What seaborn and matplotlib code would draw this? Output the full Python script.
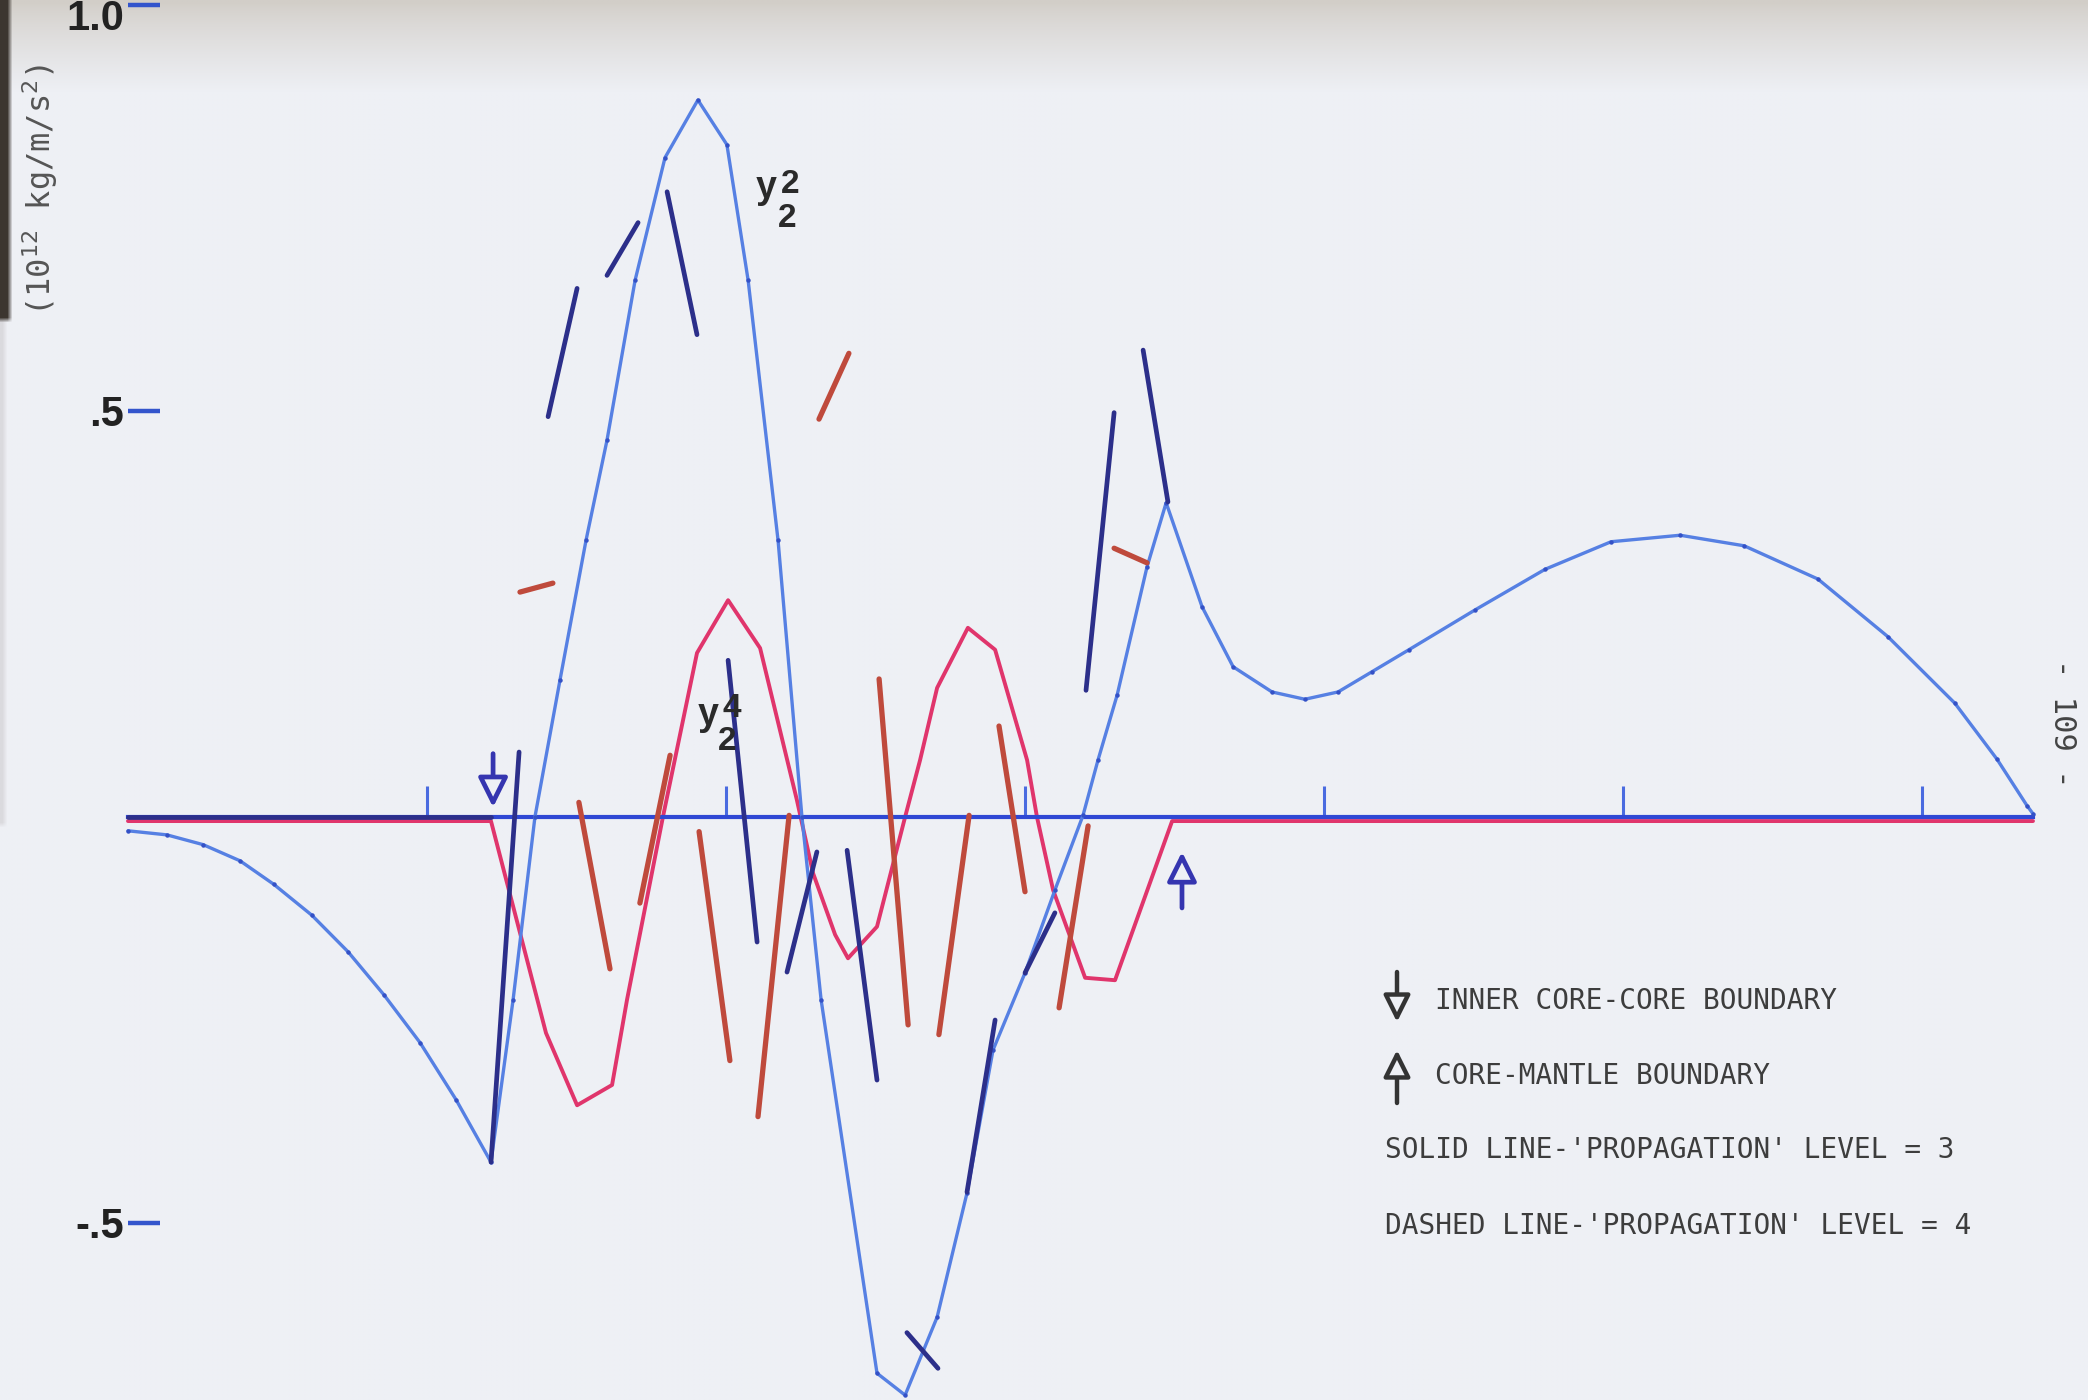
import numpy as np
import pandas as pd
import matplotlib
matplotlib.use("Agg")
import matplotlib.pyplot as plt
import seaborn as sns

# ---------------------------------------------------------------
# data (x = radius in km, y = 10^12 kg/m/s^2)
# ---------------------------------------------------------------
R_EARTH = 6371
ICB_R = 1221      # inner core - core boundary arrow
CMB_R = 3525      # core - mantle boundary arrow (as drawn)

# y2^2, light blue curve
y22_r = [0, 130, 251, 375, 488, 615, 736, 856, 977, 1097, 1214, 1288, 1361,
         1445, 1532, 1602, 1696, 1796, 1906, 2003, 2074, 2174, 2254, 2318,
         2505, 2599, 2706, 2806, 2893, 3000, 3100, 3194, 3244, 3308, 3408,
         3472, 3592, 3696, 3826, 3936, 4047, 4161, 4284, 4505, 4739, 4960,
         5191, 5405, 5652, 5886, 6110, 6251, 6351, 6371]
y22_v = [-0.017, -0.022, -0.034, -0.054, -0.083, -0.121, -0.166, -0.219,
         -0.278, -0.348, -0.425, -0.225, 0.000, 0.169, 0.341, 0.464, 0.661,
         0.812, 0.883, 0.828, 0.661, 0.341, 0.000, -0.225, -0.685, -0.712,
         -0.616, -0.463, -0.287, -0.192, -0.090, 0.002, 0.070, 0.150, 0.308,
         0.387, 0.259, 0.185, 0.154, 0.145, 0.154, 0.179, 0.206, 0.255,
         0.305, 0.339, 0.347, 0.334, 0.293, 0.222, 0.140, 0.071, 0.014, 0.004]

# y2^4, pink curve
y24_r = [0, 1214, 1398, 1502, 1619, 1669, 1789, 1903, 2007, 2114, 2237, 2291,
         2365, 2408, 2505, 2599, 2649, 2706, 2809, 2900, 3007, 3040, 3094,
         3201, 3301, 3492, 6371]
y24_v = [-0.005, -0.005, -0.266, -0.355, -0.330, -0.225, 0.000, 0.202, 0.267,
         0.208, 0.021, -0.069, -0.145, -0.174, -0.135, 0.000, 0.070, 0.159,
         0.233, 0.206, 0.070, 0.000, -0.090, -0.198, -0.201, -0.005, -0.005]

# short 'propagation' segments (r0, v0, r1, v1)
lvl3_segs = [(0, 0.0, 1214, 0.0),
             (1214, -0.425, 1308, 0.080), (1405, 0.493, 1502, 0.651),
             (1602, 0.667, 1706, 0.732), (1803, 0.770, 1903, 0.594),
             (2007, 0.193, 2104, -0.154), (2304, -0.043, 2204, -0.191),
             (2405, -0.041, 2505, -0.324), (3100, -0.118, 3000, -0.192),
             (2900, -0.250, 2806, -0.462), (2605, -0.635, 2709, -0.679),
             (3298, 0.498, 3204, 0.156), (3395, 0.575, 3478, 0.388)]
lvl4_segs = [(1311, 0.277, 1421, 0.288), (2311, 0.490, 2411, 0.571),
             (3298, 0.331, 3408, 0.313), (1508, 0.018, 1612, -0.187),
             (1813, 0.076, 1712, -0.106), (1910, -0.018, 2013, -0.300),
             (2211, 0.002, 2107, -0.369), (2512, 0.170, 2609, -0.256),
             (2813, 0.002, 2712, -0.268), (2913, 0.112, 3000, -0.092),
             (3211, -0.011, 3114, -0.235)]

x_ticks = [1000, 2000, 3000, 4000, 5000, 6000]
y_ticks = [-0.5, 0.5, 1.0]
y_ticklabels = ['-.5', '.5', '']   # '1.0' is written by hand at the top edge

legend_lines = ["INNER CORE-CORE BOUNDARY", "CORE-MANTLE BOUNDARY",
                "SOLID LINE-'PROPAGATION' LEVEL = 3",
                "DASHED LINE-'PROPAGATION' LEVEL = 4"]

# colours
PAGE = '#eef0f5'
LBLUE = '#5680e3'
PINK = '#e0356c'
NAVY = '#2c2f8a'
RED = '#bf4a3c'
AXBLUE = '#2f48d4'
ARROW = '#3535b0'

sns.set_theme(style='white')
plt.rcParams['font.family'] = ['DejaVu Sans']

W, H = 2088, 1400
fig = plt.figure(figsize=(W / 100, H / 100), dpi=100)
fig.patch.set_facecolor(PAGE)

# scanned page background: grey shading at the top, dark left edge
bg_img = np.ones((280, 418, 3)) * np.array([238, 240, 245]) / 255
top = np.array([210, 206, 200]) / 255
for i in range(18):
    t = (i / 18) ** 0.8
    bg_img[i] = top * (1 - t) + bg_img[i] * t
bg_img[:64, :2] = np.array([60, 54, 48]) / 255
bg_img[64:165, :1] = np.array([218, 218, 222]) / 255
bg_ax = fig.add_axes([0, 0, 1, 1])
bg_ax.imshow(bg_img, extent=(0, 1, 0, 1), aspect='auto', interpolation='bilinear')
bg_ax.set_axis_off()

ax = fig.add_axes([0, 0, 1, 1])
ax.patch.set_visible(False)


def seg_frame(segs):
    rows = []
    for i, (r0, v0, r1, v1) in enumerate(segs):
        rows.append((i, r0, v0))
        rows.append((i, r1, v1))
    return pd.DataFrame(rows, columns=['seg', 'r', 'v'])


sns.lineplot(x=y24_r, y=y24_v, sort=False, color=PINK, lw=2.8, zorder=1.8, ax=ax)
sns.lineplot(x=y22_r, y=y22_v, sort=False, color=LBLUE, lw=2.4, marker='o',
             markersize=3.2, markeredgewidth=0, markerfacecolor='#3451c6',
             zorder=2.2, ax=ax)
sns.lineplot(data=seg_frame(lvl3_segs), x='r', y='v', units='seg', estimator=None,
             sort=False, color=NAVY, lw=3.4, solid_capstyle='round', zorder=2.4, ax=ax)
sns.lineplot(data=seg_frame(lvl4_segs), x='r', y='v', units='seg', estimator=None,
             sort=False, color=RED, lw=3.8, solid_capstyle='round', zorder=2.4, ax=ax)

ax.set_xlim(-428, 6555)
ax.set_ylim((817 - 1400) / 812, 817 / 812)
ax.set_xlabel('')
ax.set_ylabel('')

for s in ['top', 'right']:
    ax.spines[s].set_visible(False)
ax.spines['bottom'].set_position(('data', 0))
ax.spines['bottom'].set_bounds(0, R_EARTH)
ax.spines['bottom'].set_color(AXBLUE)
ax.spines['bottom'].set_linewidth(3.0)
ax.spines['bottom'].set_zorder(2.0)
ax.spines['left'].set_position(('data', 0))
ax.spines['left'].set_color('none')

ax.set_xticks(x_ticks)
ax.tick_params(axis='x', direction='in', length=22, width=2.2, color='#4a6be0',
               labelbottom=False, bottom=True)
ax.set_yticks(y_ticks)
ax.set_yticklabels(y_ticklabels)
ax.tick_params(axis='y', direction='in', length=23, width=3.2, color='#3355cc',
               labelcolor='#222222', labelsize=30, pad=3, left=True)
for lbl in ax.get_yticklabels():
    lbl.set_fontfamily('Liberation Sans')
    lbl.set_fontweight('bold')


def px(x, y):
    return x / W, 1 - y / H


# top tick label sits right at the page edge in the scan
ax.text(*px(124, 19), '1.0', fontsize=30, family='Liberation Sans', weight='bold',
        color='#222222', ha='right', va='center', transform=ax.transAxes)

# boundary arrows
head = '-|>,head_length=0.9,head_width=0.45'
ax.annotate('', xy=(ICB_R, 0.012), xytext=(ICB_R, 0.078),
            arrowprops=dict(arrowstyle=head, mutation_scale=20, lw=3.4, ec=ARROW,
                            fc=PAGE, shrinkA=0, shrinkB=0))
ax.annotate('', xy=(CMB_R, -0.043), xytext=(CMB_R, -0.112),
            arrowprops=dict(arrowstyle=head, mutation_scale=20, lw=3.4, ec=ARROW,
                            fc=PAGE, shrinkA=0, shrinkB=0))

# curve labels
lab = dict(transform=ax.transAxes, family='Liberation Sans', weight='bold',
           color='#2a2a2a', ha='center', va='baseline')
ax.text(*px(766, 198), 'y', fontsize=27, **lab)
ax.text(*px(790, 193), '2', fontsize=24, **lab)
ax.text(*px(787, 227), '2', fontsize=24, **lab)
ax.text(*px(708, 725), 'y', fontsize=27, **lab)
ax.text(*px(732, 717), '4', fontsize=24, **lab)
ax.text(*px(727, 750), '2', fontsize=24, **lab)

# axis unit label and page number
ax.text(*px(40, 190), r'(10$^{12}$ kg/m/s$^{2}$)', rotation=90, fontsize=23,
        family='DejaVu Sans Mono', color='#555555', ha='center', va='center',
        transform=ax.transAxes)
ax.text(*px(2063, 723), '- 109 -', rotation=270, fontsize=22,
        family='DejaVu Sans Mono', color='#444444', ha='center', va='center',
        transform=ax.transAxes)

# legend block
leg = dict(transform=ax.transAxes, family='DejaVu Sans Mono', fontsize=20,
           color='#3d3d3d', ha='left', va='baseline')
ax.text(*px(1435, 1009), legend_lines[0], **leg)
ax.text(*px(1435, 1084), legend_lines[1], **leg)
ax.text(*px(1385, 1158), legend_lines[2], **leg)
ax.text(*px(1385, 1234), legend_lines[3], **leg)
ax.annotate('', xy=px(1397, 1022), xytext=px(1397, 972), xycoords='axes fraction',
            arrowprops=dict(arrowstyle=head, mutation_scale=18, lw=3.2, ec='#333333',
                            fc=PAGE, shrinkA=0, shrinkB=0))
ax.annotate('', xy=px(1397, 1050), xytext=px(1397, 1103), xycoords='axes fraction',
            arrowprops=dict(arrowstyle=head, mutation_scale=18, lw=3.2, ec='#333333',
                            fc=PAGE, shrinkA=0, shrinkB=0))

fig.savefig('out.png', dpi=100, facecolor=fig.get_facecolor())
